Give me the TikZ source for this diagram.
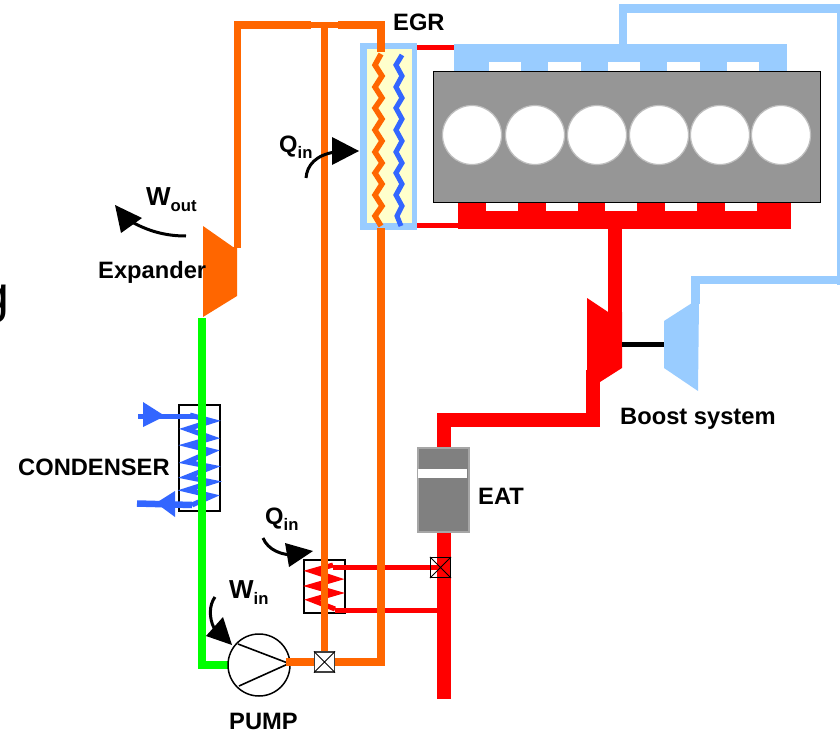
\documentclass[tikz,border=0pt]{standalone}
\usepackage{fontspec}
\setmainfont{Liberation Sans}
\usetikzlibrary{calc}
\definecolor{orpipe}{HTML}{FF6600}
\definecolor{grpipe}{HTML}{00FF00}
\definecolor{rdpipe}{HTML}{FF0000}
\definecolor{blpipe}{HTML}{99CCFF}
\definecolor{zzblue}{HTML}{3366FF}
\definecolor{blockgray}{HTML}{969696}
\definecolor{eatgray}{HTML}{808080}
\definecolor{eatedge}{HTML}{A6A6A6}
\definecolor{egryellow}{HTML}{FFFFCC}
\newcommand{\lblsub}[1]{\raisebox{-6pt}{\fontsize{16.7}{18}\selectfont\bfseries #1}}
\newcommand{\lblbig}[1]{{\fontsize{26}{28}\selectfont\bfseries #1}}
\tikzset{
  lbl/.style={font=\fontsize{23.7}{25}\selectfont\bfseries, inner sep=0pt, text=black},
  pipeO/.style={draw=orpipe, line width=7.6pt, line cap=butt, line join=miter},
  pipeG/.style={draw=grpipe, line width=7.6pt, line join=miter},
  pipeR/.style={draw=rdpipe, line width=14pt, line join=miter},
  pipeRthin/.style={draw=rdpipe, line width=5pt},
  pipeB/.style={draw=blpipe, line width=8.5pt, line join=miter},
  zig/.style={line width=5.5pt, line join=miter, miter limit=8},
  zigsharp/.style={line width=5pt, line join=miter, miter limit=10},
  valvebox/.style={draw=black, line width=1.2pt, minimum size=20pt, inner sep=0pt},
  hxbox/.style={draw=black, line width=1.2pt},
  workarc/.style={draw=black, line width=3pt},
  workhead/.style={fill=black, draw=none},
  cyl/.style={circle, fill=white, draw=black!25, line width=1.2pt, minimum size=59pt, inner sep=0pt}
}
\begin{document}
\begin{tikzpicture}[x=1pt,y=-1pt]
\useasboundingbox (0,0) rectangle (840,733);
\fill[white] (0,0) rectangle (840,733);
% clipped text at the left edge
\begin{scope}
\clip (0,270) rectangle (20,330);
\node[font=\fontsize{52}{54}\selectfont, inner sep=0pt, anchor=base east] (cutg) at (10,312) {g};
\end{scope}
% blue charge air
\draw[pipeB] (623,44) -- (623,8.5) -- (840,8.5);
\draw[draw=blpipe, line width=3pt] (838.5,8) -- (838.5,285);
\draw[pipeB] (695.5,304) -- (695.5,280) -- (840,280);
\fill[blpipe] (454,44) rectangle (787,72);
\foreach \a/\b in {489/521,548/581,608/640,667/700,727/759}{\fill[white] (\a,62) rectangle (\b,72);}
% red exhaust
\fill[rdpipe] (458,201) rectangle (791,229);
\foreach \a/\b in {486/518,546/578,605/637,665/697,725/757}{\fill[white] (\a,202) rectangle (\b,211);}
\draw[pipeR] (615,229) -- (615,320);
\draw[pipeR] (593,370) -- (593,420) -- (444,420) -- (444,699);
\draw[draw=rdpipe, line width=5pt] (393,47.5) -- (454,47.5);
\draw[draw=rdpipe, line width=5pt] (394,225.5) -- (458,225.5);
% engine
\node[draw=black, fill=blockgray, line width=1.4pt, minimum width=387pt, minimum height=131pt, inner sep=0pt, anchor=north west] (engine) at (433,71) {};
\foreach \n/\x in {a/472,b/535,c/597,d/659,e/720,f/781}{\node[cyl] (cyl\n) at (\x,135) {};}
% turbine / compressor
\fill[rdpipe] (587,298) -- (608,312) -- (622,312) -- (622,368) -- (600,382) -- (587,382) -- cycle;
\fill[blpipe] (664,321) -- (692,303) -- (699,301) -- (698,391) -- (664,368) -- cycle;
\draw[black, line width=5pt] (622,344.5) -- (664,344.5);
% EGR cooler
\node[fill=blpipe, minimum width=57pt, minimum height=187pt, inner sep=0pt, anchor=north west] (egr) at (360,43) {};
\node[fill=egryellow, minimum width=45pt, minimum height=174pt, inner sep=0pt, anchor=north west] (egrin) at (367,49) {};
\draw[zig, draw=orpipe] (381,54) -- (375,65) -- (382,76) -- (375,87) -- (382,98) -- (375,108) -- (382,119) -- (375,130) -- (382,141) -- (375,152) -- (382,163) -- (375,173) -- (382,184) -- (375,195) -- (382,206) -- (375,216) -- (381,226);
\draw[zig, line width=5pt, draw=zzblue] (402,55) -- (396,65) -- (402,76) -- (396,87) -- (402,98) -- (396,108) -- (402,119) -- (396,130) -- (402,141) -- (396,152) -- (402,163) -- (396,173) -- (402,184) -- (396,195) -- (402,206) -- (397,216) -- (401,226);
% orange loop
\fill[orpipe] (203,226) -- (233,247) -- (237,248) -- (237,296) -- (203,317) -- cycle;
\draw[pipeO] (237.5,248) -- (237.5,25) -- (311,25);
\draw[pipeO] (338,25) -- (381,25) -- (381,52);
\draw[draw=orpipe, line width=6pt] (311,25) -- (338,25);
\draw[pipeO] (324.5,25) -- (324.5,662);
\draw[pipeO] (381,228) -- (381,662) -- (286,662);
% green
\draw[pipeG] (202,318) -- (202,665) -- (232,665);
% condenser
\draw[hxbox] (179,405) rectangle (220,511);
\draw[zigsharp, draw=zzblue] (190,415) -- (212,421) -- (187,429) -- (212,438) -- (188,445) -- (212,451) -- (187,462) -- (212,467) -- (187,477) -- (212,482) -- (187,490) -- (212,496) -- (192,505);
\draw[draw=zzblue, line width=5pt] (138,416) -- (195,416);
\fill[zzblue] (143,402) -- (165,416) -- (143,427) -- cycle;
\draw[draw=zzblue, line width=6.5pt] (137,503.5) -- (192,505);
\fill[zzblue] (156,503) -- (175,491) -- (175,517) -- cycle;
\draw[pipeG] (202,395) -- (202,520);
% low-temp HX
\draw[hxbox] (304,560) rectangle (345,613);
\draw[zigsharp, draw=rdpipe] (333,565) -- (312,571) -- (336,579) -- (312,586) -- (336,593) -- (312,600) -- (335,609);
\draw[pipeRthin] (333,567) -- (437,567);
\draw[pipeRthin] (335,610) -- (440,610);
\draw[pipeO] (324.5,545) -- (324.5,625);
\draw[pipeO] (381,555) -- (381,625);
% EAT
\node[draw=eatedge, fill=eatgray, line width=2.2pt, minimum width=51pt, minimum height=84pt, inner sep=0pt, anchor=north west] (eat) at (417,447) {};
\fill[white] (418,468.5) rectangle (467,477.5);
% valves
\node[valvebox, fill=white, draw=black!75] (v1) at (324.5,662) {};
\draw[line width=0.8pt, black] (v1.north west) -- (v1.south east) (v1.north east) -- (v1.south west);
\node[valvebox] (v2) at (440.5,567.5) {};
\draw[line width=0.8pt, black] (v2.north west) -- (v2.south east) (v2.north east) -- (v2.south west);
% pump
\node[circle, draw=black, fill=white, line width=1.5pt, minimum size=62pt, inner sep=0pt] (pump) at (259,665) {};
\draw[black, line width=1.6pt] (238,644) -- (289,663.5) -- (239,686);
\draw[pipeO] (286,662) -- (314,662);
% work arrows
\draw[workarc] (186,236) .. controls (165,236) and (148,231) .. (130,221);
\fill[workhead] (115,205) -- (142,218) -- (121,233) -- cycle;
\draw[workarc] (306,178) .. controls (307,165) and (316,155) .. (335,152);
\fill[workhead] (359,151) -- (332,137) -- (332,165) -- cycle;
\draw[workarc] (263,538) .. controls (268,550) and (282,556) .. (298,555);
\fill[workhead] (285,543) -- (313,551) -- (289,567) -- cycle;
\draw[workarc] (215,597) .. controls (209,605) and (209,618) .. (214,628);
\fill[workhead] (223,617) -- (232,645) -- (206,636) -- cycle;
% labels
\node[lbl, anchor=base west] (tegr) at (393,31) {EGR};
\node[lbl, anchor=base west] (texp) at (98,278) {Expander};
\node[lbl, anchor=base west] (twout) at (146,205) {\lblbig{W}\lblsub{out}};
\node[lbl, anchor=base west] (tcond) at (18,475) {CONDENSER};
\node[lbl, anchor=base west] (teat) at (478,504) {EAT};
\node[lbl, anchor=base west] (tq1) at (279,152) {Q\lblsub{in}};
\node[lbl, anchor=base west] (tq2) at (265,524) {Q\lblsub{in}};
\node[lbl, anchor=base west] (twin) at (229,598) {\lblbig{W}\lblsub{in}};
\node[lbl, anchor=base west] (tpump) at (229,729.5) {PUMP};
\node[lbl, anchor=base west] (tboost) at (620,424) {Boost system};
\end{tikzpicture}
\end{document}
